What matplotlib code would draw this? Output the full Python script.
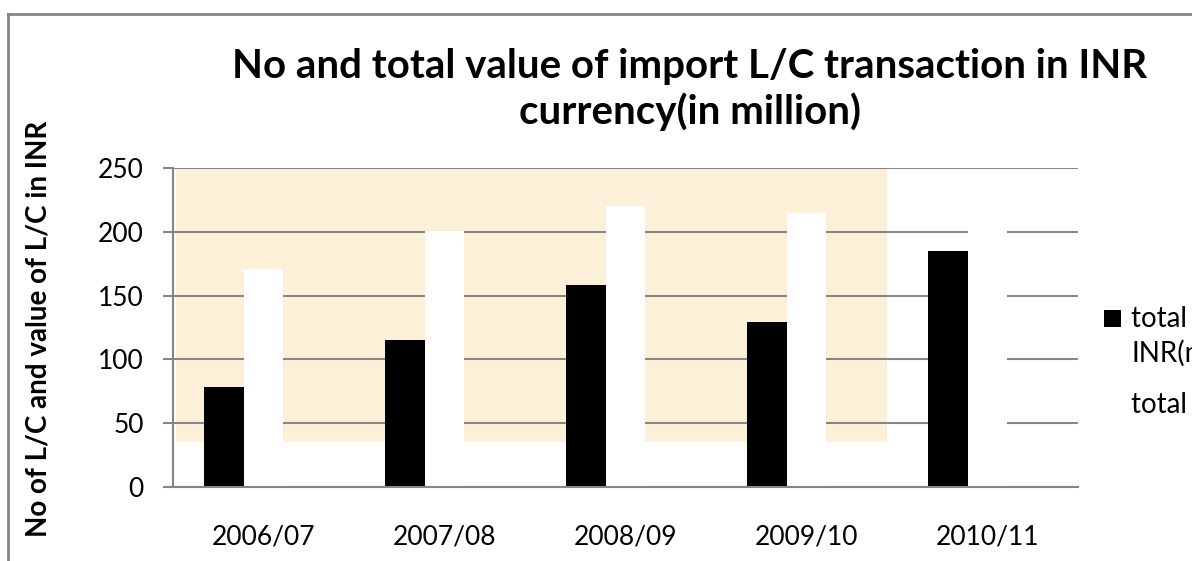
import numpy as np
import matplotlib
matplotlib.use("Agg")
import matplotlib.pyplot as plt
from matplotlib.patches import Rectangle
from matplotlib.lines import Line2D

plt.rcParams['font.family'] = ['Lato', 'DejaVu Sans']

# data
years = ['2006/07', '2007/08', '2008/09', '2009/10', '2010/11']
total_value = [78, 115, 158, 129, 185]     # black bars
total_no = [171, 201, 220, 215, 225]       # white bars (hidden on white)
yticks = [0, 50, 100, 150, 200, 250]
labels = [['total value of L/C in', 'INR(million)'], ['total no of L/C']]

grid_col = '#868686'
bar_w = 0.22
W, H = 1192, 561

fig = plt.figure(figsize=(W / 100, H / 100), dpi=100)
ax = fig.add_axes([173 / W, 1 - 487 / H, 905 / W, 319 / H])

x = np.arange(len(years))

# parchment picture behind part of the plot area
ax.add_patch(Rectangle((-0.483, 35), 3.925, 215, facecolor='#fdf0d9',
                       edgecolor='none', zorder=0.2))

ax.bar(x - bar_w, total_value, bar_w, color='black', zorder=2)
ax.bar(x, total_no, bar_w, color='white', zorder=2)

ax.set_xlim(-0.5, len(years) - 0.5)
ax.set_ylim(0, 250)
ax.set_yticks(yticks)
ax.set_xticks(x)
ax.set_xticklabels(years)
ax.yaxis.grid(True, color=grid_col, linewidth=1.5, zorder=0.5)
ax.set_axisbelow(True)

for s in ['top', 'right']:
    ax.spines[s].set_visible(False)
for s in ['left', 'bottom']:
    ax.spines[s].set_color(grid_col)
    ax.spines[s].set_linewidth(1.5)
ax.tick_params(axis='y', length=7, width=1.5, color=grid_col, labelsize=19, pad=14)
ax.tick_params(axis='x', length=0, labelsize=19, pad=27)
ax.set_facecolor('none')

ax.set_ylabel('No of L/C and value of L/C in INR', fontsize=20, fontweight='bold')
ax.yaxis.set_label_coords(-0.134, 0.495)

# title, two lines as in the original
fig.text(690 / W, 1 - 78 / H, 'No and total value of import L/C transaction in INR',
         ha='center', va='baseline', fontsize=29, fontweight='bold')
fig.text(690 / W, 1 - 124 / H, 'currency(in million)',
         ha='center', va='baseline', fontsize=29, fontweight='bold')

# legend (runs off the right edge like the original)
fig.add_artist(Rectangle((1104 / W, 1 - 327 / H), 17 / W, 17 / H,
                         facecolor='black', edgecolor='none',
                         transform=fig.transFigure))
for baseline, line in zip([327, 362, 413], labels[0] + labels[1]):
    fig.text(1131 / W, 1 - baseline / H, line, ha='left', va='baseline',
             fontsize=20)

# chart area border
fig.add_artist(Line2D([8 / W, 8 / W], [0, 1 - 14 / H], color=grid_col,
                      linewidth=2, transform=fig.transFigure))
fig.add_artist(Line2D([8 / W, 1], [1 - 14 / H, 1 - 14 / H], color=grid_col,
                      linewidth=2, transform=fig.transFigure))

fig.savefig('out.png', dpi=100)
